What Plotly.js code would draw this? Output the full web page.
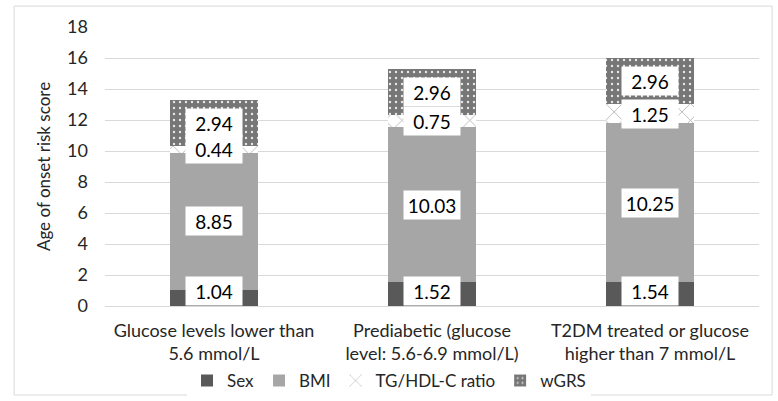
<!DOCTYPE html>
<html><head><meta charset="utf-8">
<script src="https://cdn.plot.ly/plotly-3.0.1.min.js"></script>
<style>html,body{margin:0;padding:0;background:#fff}#chart{width:778px;height:401px}</style>
</head><body><div id="chart"></div>
<script>
const categories = ["Glucose levels lower than<br>5.6 mmol/L", "Prediabetic (glucose<br>level: 5.6-6.9 mmol/L)", "T2DM treated or glucose<br>higher than 7 mmol/L"];
const sexValues = [1.04, 1.52, 1.54];
const bmiValues = [8.85, 10.03, 10.25];
const tgHdlValues = [0.44, 0.75, 1.25];
const wgrsValues = [2.94, 2.96, 2.96];
const seriesNames = ["Sex", "BMI", "TG/HDL-C ratio", "wGRS"];

const FONT = "Lato, 'Open Sans', sans-serif";
const TXT = "#262626";
const series = [sexValues, bmiValues, tgHdlValues, wgrsValues];
const styles = [
  {color: "#595959"},
  {color: "#a6a6a6"},
  {color: "#ffffff", pattern: {shape: "x", fgcolor: "#a6a6a6", bgcolor: "#ffffff", size: 12, solidity: 0.12}},
  {color: "#767676", pattern: {shape: ".", fgcolor: "#e8e8e8", bgcolor: "#767676", size: 6, solidity: 0.12}}
];
const traces = series.map((vals, i) => ({
  type: "bar", name: seriesNames[i], x: categories, y: vals, width: 0.4,
  marker: Object.assign({line: {width: 0}}, styles[i]), hoverinfo: "skip"
}));

const annotations = [];
categories.forEach((c, j) => {
  let base = 0;
  series.forEach((vals, i) => {
    const v = vals[j];
    let mid = base + v / 2;
    if (i === 0) mid = Math.max(mid, 0.95);
    annotations.push({x: c, y: mid, xref: "x", yref: "y", text: v.toFixed(2), showarrow: false,
      font: {family: FONT, size: 19, color: "#000"}, bgcolor: "#ffffff", width: 54, height: 26, borderpad: 1});
    base += v;
  });
});

const layout = {
  width: 778, height: 401,
  margin: {l: 105, r: 19, t: 27, b: 95},
  paper_bgcolor: "#fff", plot_bgcolor: "#fff",
  barmode: "stack", bargap: 0.6,
  font: {family: FONT, size: 17, color: TXT},
  xaxis: {automargin: false, showgrid: false, showline: true, linecolor: "#d9d9d9", linewidth: 1, ticks: "",
    ticklabelstandoff: 8, tickfont: {family: FONT, size: 18, color: TXT}},
  yaxis: {automargin: false, range: [0, 18], dtick: 2, showgrid: true, gridcolor: "#d9d9d9", zeroline: false, ticks: "",
    ticklabelstandoff: 16, tickfont: {family: FONT, size: 18, color: TXT},
    title: {text: "Age of onset risk score", font: {family: FONT, size: 17, color: TXT}, standoff: 12}},
  legend: {orientation: "h", x: 0.5, xanchor: "center", xref: "container", yref: "container", y: 0.05, yanchor: "middle",
    font: {family: FONT, size: 17, color: TXT}, itemwidth: 30, traceorder: "normal"},
  annotations: annotations,
  shapes: [{type: "rect", xref: "paper", yref: "paper", x0: -0.139, x1: 1.02, y0: -0.319, y1: 1.075,
    line: {color: "#d9d9d9", width: 1}, fillcolor: "rgba(0,0,0,0)", layer: "below"}]
};
Plotly.newPlot("chart", traces, layout, {staticPlot: true, displayModeBar: false});
</script></body></html>
